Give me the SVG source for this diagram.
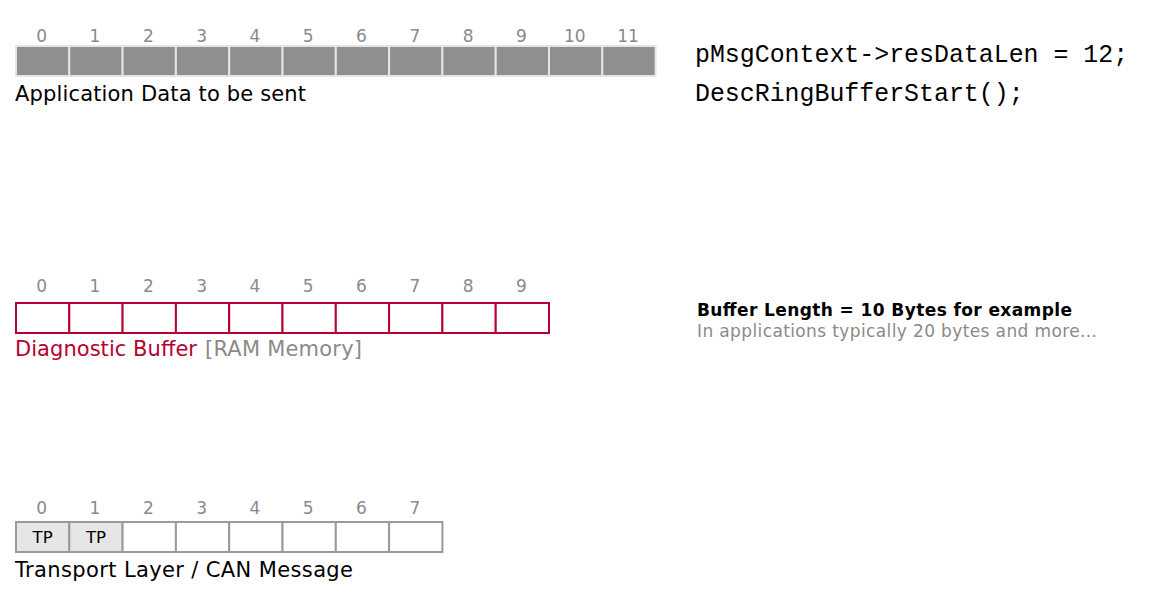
<svg xmlns="http://www.w3.org/2000/svg" width="1152" height="602" viewBox="0 0 1152 602">
<style>
.bg{fill:#ffffff}
.num{font-family:"DejaVu Sans","Verdana",sans-serif;font-size:17px;fill:#8a8a8a;text-anchor:middle}
.lbl{font-family:"DejaVu Sans","Verdana",sans-serif;font-size:21px;fill:#000000}
.code{font-family:"Liberation Mono","Courier New",monospace;font-size:24.9px;fill:#000000}
.app{fill:#8f8f8f;stroke:#e4e4e4;stroke-width:2}
.diag{fill:#ffffff;stroke:#b70032;stroke-width:2}
.tp{fill:#ffffff;stroke:#9a9a9a;stroke-width:2}
.tpf{fill:#e6e6e6;stroke:#9a9a9a;stroke-width:2}
.tpt{font-family:"DejaVu Sans","Verdana",sans-serif;font-size:16.5px;fill:#000000;text-anchor:middle}
.red{fill:#b70032}
.gray{fill:#8a8a8a}
.bold{font-family:"DejaVu Sans","Verdana",sans-serif;font-size:17px;font-weight:bold;fill:#000000}
.note{font-family:"DejaVu Sans","Verdana",sans-serif;font-size:17px;fill:#8a8a8a}
</style>
<rect class="bg" x="0" y="0" width="1152" height="602"/>
<g id="connectors"></g>

<g id="app-data">
<text class="num" x="41.7" y="42">0</text>
<text class="num" x="95.0" y="42">1</text>
<text class="num" x="148.3" y="42">2</text>
<text class="num" x="201.6" y="42">3</text>
<text class="num" x="254.9" y="42">4</text>
<text class="num" x="308.2" y="42">5</text>
<text class="num" x="361.5" y="42">6</text>
<text class="num" x="414.8" y="42">7</text>
<text class="num" x="468.1" y="42">8</text>
<text class="num" x="521.4" y="42">9</text>
<text class="num" x="574.7" y="42">10</text>
<text class="num" x="628.0" y="42">11</text>
<rect class="app" x="16" y="46" width="53.3" height="30"/>
<rect class="app" x="69.3" y="46" width="53.3" height="30"/>
<rect class="app" x="122.6" y="46" width="53.3" height="30"/>
<rect class="app" x="175.9" y="46" width="53.3" height="30"/>
<rect class="app" x="229.2" y="46" width="53.3" height="30"/>
<rect class="app" x="282.5" y="46" width="53.3" height="30"/>
<rect class="app" x="335.8" y="46" width="53.3" height="30"/>
<rect class="app" x="389.1" y="46" width="53.3" height="30"/>
<rect class="app" x="442.4" y="46" width="53.3" height="30"/>
<rect class="app" x="495.7" y="46" width="53.3" height="30"/>
<rect class="app" x="549.0" y="46" width="53.3" height="30"/>
<rect class="app" x="602.3" y="46" width="53.3" height="30"/>
<text class="lbl" x="15" y="101" textLength="291" lengthAdjust="spacing">Application Data to be sent</text>
</g>

<g id="code">
<text class="code" x="695" y="62">pMsgContext-&gt;resDataLen = 12;</text>
<text class="code" x="695" y="101">DescRingBufferStart();</text>
</g>

<g id="diag-buffer">
<text class="num" x="41.7" y="292">0</text>
<text class="num" x="95.0" y="292">1</text>
<text class="num" x="148.3" y="292">2</text>
<text class="num" x="201.6" y="292">3</text>
<text class="num" x="254.9" y="292">4</text>
<text class="num" x="308.2" y="292">5</text>
<text class="num" x="361.5" y="292">6</text>
<text class="num" x="414.8" y="292">7</text>
<text class="num" x="468.1" y="292">8</text>
<text class="num" x="521.4" y="292">9</text>
<rect class="diag" x="16" y="303" width="53.3" height="30"/>
<rect class="diag" x="69.3" y="303" width="53.3" height="30"/>
<rect class="diag" x="122.6" y="303" width="53.3" height="30"/>
<rect class="diag" x="175.9" y="303" width="53.3" height="30"/>
<rect class="diag" x="229.2" y="303" width="53.3" height="30"/>
<rect class="diag" x="282.5" y="303" width="53.3" height="30"/>
<rect class="diag" x="335.8" y="303" width="53.3" height="30"/>
<rect class="diag" x="389.1" y="303" width="53.3" height="30"/>
<rect class="diag" x="442.4" y="303" width="53.3" height="30"/>
<rect class="diag" x="495.7" y="303" width="53.3" height="30"/>
<text class="lbl red" x="15" y="356" textLength="182" lengthAdjust="spacing">Diagnostic Buffer</text>
<text class="lbl gray" x="205" y="356" textLength="157" lengthAdjust="spacing">[RAM Memory]</text>
</g>

<g id="buffer-note">
<text class="bold" x="697" y="316" textLength="375" lengthAdjust="spacing">Buffer Length = 10 Bytes for example</text>
<text class="note" x="697" y="337" textLength="400" lengthAdjust="spacing">In applications typically 20 bytes and more...</text>
</g>

<g id="can-message">
<text class="num" x="41.7" y="514">0</text>
<text class="num" x="95.0" y="514">1</text>
<text class="num" x="148.3" y="514">2</text>
<text class="num" x="201.6" y="514">3</text>
<text class="num" x="254.9" y="514">4</text>
<text class="num" x="308.2" y="514">5</text>
<text class="num" x="361.5" y="514">6</text>
<text class="num" x="414.8" y="514">7</text>
<rect class="tpf" x="16" y="522" width="53.3" height="30"/>
<rect class="tpf" x="69.3" y="522" width="53.3" height="30"/>
<rect class="tp" x="122.6" y="522" width="53.3" height="30"/>
<rect class="tp" x="175.9" y="522" width="53.3" height="30"/>
<rect class="tp" x="229.2" y="522" width="53.3" height="30"/>
<rect class="tp" x="282.5" y="522" width="53.3" height="30"/>
<rect class="tp" x="335.8" y="522" width="53.3" height="30"/>
<rect class="tp" x="389.1" y="522" width="53.3" height="30"/>
<text class="tpt" x="42.6" y="543">TP</text>
<text class="tpt" x="95.9" y="543">TP</text>
<text class="lbl" x="15" y="577" textLength="338" lengthAdjust="spacing">Transport Layer / CAN Message</text>
</g>
</svg>
